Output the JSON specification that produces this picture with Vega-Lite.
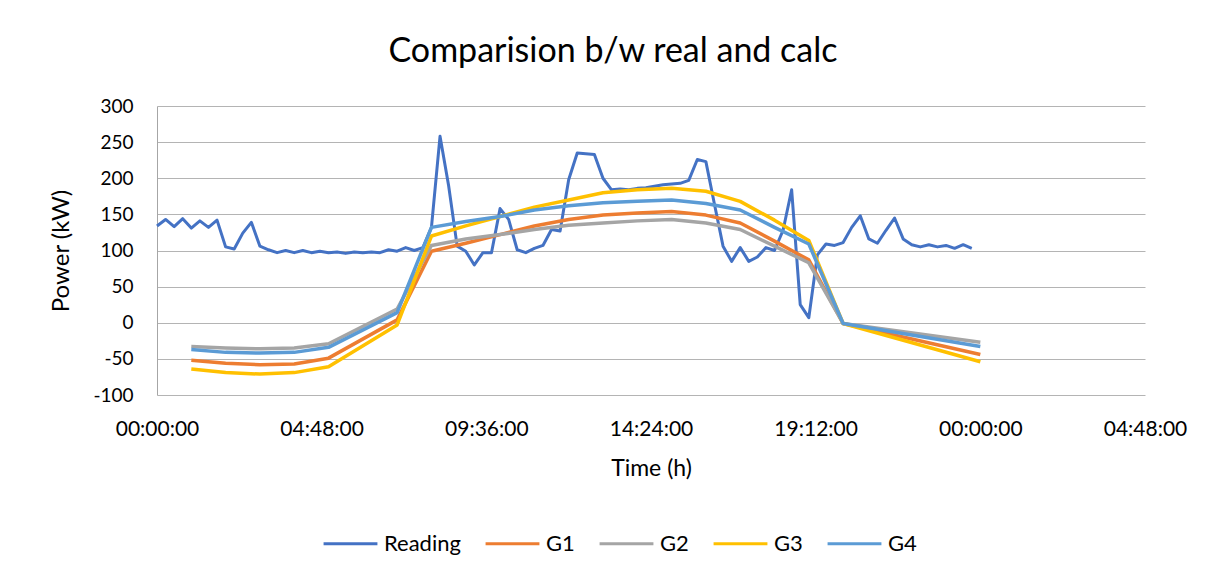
{
  "$schema": "https://vega.github.io/schema/vega-lite/v6.json",
  "width": 988,
  "height": 289,
  "autosize": {"type": "none"},
  "padding": {"left": 157, "top": 106, "right": 67, "bottom": 183},
  "background": "white",
  "title": {"text": "Comparision b/w real and calc", "fontSize": 34, "font": "Lato", "fontWeight": "normal", "color": "#000000", "anchor": "middle", "dx": -38, "offset": 28},
  "config": {"font": "Lato", "view": {"stroke": null}},
  "datasets": {
    "reading": [
      {"t": 0, "Reading": 134}, {"t": 0.25, "Reading": 143}, {"t": 0.5, "Reading": 133}, {"t": 0.75, "Reading": 144},
      {"t": 1, "Reading": 131}, {"t": 1.25, "Reading": 141}, {"t": 1.5, "Reading": 132}, {"t": 1.75, "Reading": 142},
      {"t": 2, "Reading": 105}, {"t": 2.25, "Reading": 102}, {"t": 2.5, "Reading": 124}, {"t": 2.75, "Reading": 139},
      {"t": 3, "Reading": 106}, {"t": 3.25, "Reading": 101}, {"t": 3.5, "Reading": 97}, {"t": 3.75, "Reading": 100},
      {"t": 4, "Reading": 97}, {"t": 4.25, "Reading": 100}, {"t": 4.5, "Reading": 97}, {"t": 4.75, "Reading": 99},
      {"t": 5, "Reading": 97}, {"t": 5.25, "Reading": 98}, {"t": 5.5, "Reading": 96}, {"t": 5.75, "Reading": 98},
      {"t": 6, "Reading": 97}, {"t": 6.25, "Reading": 98}, {"t": 6.5, "Reading": 97}, {"t": 6.75, "Reading": 101},
      {"t": 7, "Reading": 99}, {"t": 7.25, "Reading": 104}, {"t": 7.5, "Reading": 100}, {"t": 7.75, "Reading": 104},
      {"t": 8, "Reading": 132}, {"t": 8.25, "Reading": 258}, {"t": 8.5, "Reading": 190}, {"t": 8.75, "Reading": 106},
      {"t": 9, "Reading": 99}, {"t": 9.25, "Reading": 80}, {"t": 9.5, "Reading": 97}, {"t": 9.75, "Reading": 97},
      {"t": 10, "Reading": 158}, {"t": 10.25, "Reading": 143}, {"t": 10.5, "Reading": 101}, {"t": 10.75, "Reading": 97},
      {"t": 11, "Reading": 103}, {"t": 11.25, "Reading": 107}, {"t": 11.5, "Reading": 129}, {"t": 11.75, "Reading": 127},
      {"t": 12, "Reading": 198}, {"t": 12.25, "Reading": 235}, {"t": 12.5, "Reading": 234}, {"t": 12.75, "Reading": 233},
      {"t": 13, "Reading": 200}, {"t": 13.25, "Reading": 184}, {"t": 13.5, "Reading": 185}, {"t": 13.75, "Reading": 184},
      {"t": 14, "Reading": 186}, {"t": 14.25, "Reading": 187}, {"t": 14.5, "Reading": 189}, {"t": 14.75, "Reading": 191},
      {"t": 15, "Reading": 192}, {"t": 15.25, "Reading": 193}, {"t": 15.5, "Reading": 197}, {"t": 15.75, "Reading": 226},
      {"t": 16, "Reading": 223}, {"t": 16.25, "Reading": 164}, {"t": 16.5, "Reading": 106}, {"t": 16.75, "Reading": 85},
      {"t": 17, "Reading": 104}, {"t": 17.25, "Reading": 85}, {"t": 17.5, "Reading": 91}, {"t": 17.75, "Reading": 104},
      {"t": 18, "Reading": 100}, {"t": 18.25, "Reading": 128}, {"t": 18.5, "Reading": 184}, {"t": 18.75, "Reading": 25},
      {"t": 19, "Reading": 7}, {"t": 19.25, "Reading": 94}, {"t": 19.5, "Reading": 109}, {"t": 19.75, "Reading": 107},
      {"t": 20, "Reading": 111}, {"t": 20.25, "Reading": 132}, {"t": 20.5, "Reading": 148}, {"t": 20.75, "Reading": 116},
      {"t": 21, "Reading": 110}, {"t": 21.25, "Reading": 128}, {"t": 21.5, "Reading": 145}, {"t": 21.75, "Reading": 116},
      {"t": 22, "Reading": 108}, {"t": 22.25, "Reading": 105}, {"t": 22.5, "Reading": 108}, {"t": 22.75, "Reading": 105},
      {"t": 23, "Reading": 107}, {"t": 23.25, "Reading": 103}, {"t": 23.5, "Reading": 108}, {"t": 23.75, "Reading": 103}
    ],
    "calc": [
      {"t": 1, "G1": -52, "G2": -33, "G3": -64, "G4": -37},
      {"t": 2, "G1": -56, "G2": -35, "G3": -69, "G4": -41},
      {"t": 3, "G1": -58, "G2": -36, "G3": -71, "G4": -42},
      {"t": 4, "G1": -57, "G2": -35, "G3": -69, "G4": -41},
      {"t": 5, "G1": -49, "G2": -29, "G3": -61, "G4": -34},
      {"t": 7, "G1": 4, "G2": 19, "G3": -3, "G4": 14},
      {"t": 8, "G1": 99, "G2": 107, "G3": 120, "G4": 132},
      {"t": 9, "G1": 110, "G2": 116, "G3": 134, "G4": 140},
      {"t": 10, "G1": 122, "G2": 122, "G3": 147, "G4": 147},
      {"t": 11, "G1": 134, "G2": 129, "G3": 160, "G4": 156},
      {"t": 12, "G1": 143, "G2": 135, "G3": 170, "G4": 162},
      {"t": 13, "G1": 149, "G2": 138, "G3": 180, "G4": 166},
      {"t": 14, "G1": 152, "G2": 141, "G3": 184, "G4": 168},
      {"t": 15, "G1": 154, "G2": 143, "G3": 186, "G4": 170},
      {"t": 16, "G1": 149, "G2": 138, "G3": 182, "G4": 165},
      {"t": 17, "G1": 138, "G2": 129, "G3": 168, "G4": 156},
      {"t": 18, "G1": 113, "G2": 106, "G3": 142, "G4": 132},
      {"t": 19, "G1": 87, "G2": 83, "G3": 114, "G4": 109},
      {"t": 20, "G1": -1, "G2": -1, "G3": -1, "G4": -1},
      {"t": 24, "G1": -44, "G2": -27, "G3": -54, "G4": -33}
    ]
  },
  "encoding": {
    "x": {
      "field": "t", "type": "quantitative",
      "scale": {"domain": [0, 28.8], "nice": false, "zero": false},
      "axis": {
        "values": [0, 4.8, 9.6, 14.4, 19.2, 24, 28.8],
        "labelExpr": "pad(toString(floor(datum.value % 24 + 0.001)), 2, '0', 'left') + ':' + pad(toString(round((datum.value % 1) * 60) % 60), 2, '0', 'left') + ':00'",
        "labelFlush": false, "labelBound": false, "labelOverlap": false,
        "title": "Time (h)", "grid": false, "ticks": false, "domain": false,
        "labelPadding": 23, "labelFontSize": 21, "labelColor": "#000000", "labelFont": "Lato",
        "titleFontSize": 23, "titleFontWeight": "normal", "titleColor": "#000000", "titleFont": "Lato", "titlePadding": 18
      }
    },
    "y": {
      "field": "kW", "type": "quantitative",
      "scale": {"domain": [-100, 300], "nice": false},
      "axis": {
        "values": [-100, -50, 0, 50, 100, 150, 200, 250, 300],
        "labelExpr": "toString(datum.value)",
        "title": "Power (kW)", "ticks": false, "domain": true, "domainColor": "#a6a6a6", "domainWidth": 1,
        "grid": true, "gridColor": "#b4b4b4", "gridWidth": 1,
        "labelPadding": 24, "labelFontSize": 19, "labelColor": "#000000", "labelFont": "Lato",
        "titleFontSize": 24, "titleFontWeight": "normal", "titleColor": "#000000", "titleFont": "Lato", "titlePadding": 19
      }
    },
    "color": {
      "field": "series", "type": "nominal",
      "scale": {"domain": ["Reading", "G1", "G2", "G3", "G4"], "range": ["#4472C4", "#ED7D31", "#A5A5A5", "#FFC000", "#5B9BD5"]},
      "legend": {
        "title": null, "orient": "none", "legendX": 165, "legendY": 409, "direction": "horizontal",
        "symbolType": "stroke", "symbolSize": 2900, "symbolStrokeWidth": 3,
        "labelFontSize": 22, "labelFont": "Lato", "labelColor": "#000000", "labelOffset": 5, "columnPadding": 18
      }
    }
  },
  "layer": [
    {
      "data": {"name": "reading"},
      "transform": [{"fold": ["Reading"], "as": ["series", "kW"]}],
      "mark": {"type": "line", "strokeWidth": 3, "strokeJoin": "round"}
    },
    {
      "data": {"name": "calc"},
      "transform": [{"fold": ["G1", "G2", "G3", "G4"], "as": ["series", "kW"]}],
      "mark": {"type": "line", "strokeWidth": 3.5, "strokeJoin": "round"}
    }
  ]
}
